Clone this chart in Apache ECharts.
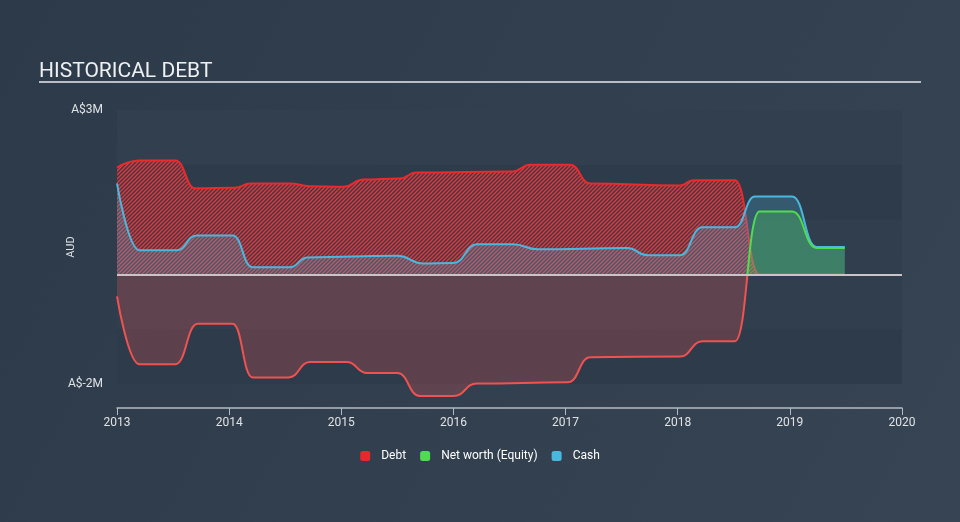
<!DOCTYPE html>
<html>
<head>
<meta charset="utf-8">
<script src="https://cdn.jsdelivr.net/npm/echarts@6/dist/echarts.min.js"></script>
<style>
html,body{margin:0;padding:0;background:#323f4e;}
#chart{width:960px;height:522px;}
</style>
</head>
<body>
<div id="chart"></div>
<script>
// ---- data (years as decimal, values in A$ millions) ----
const debtX = [2013.0, 2013.2, 2013.52, 2013.7, 2014.05, 2014.19, 2014.54, 2014.72, 2015.02, 2015.2, 2015.52, 2015.67, 2016.53, 2016.68, 2017.04, 2017.22, 2018.02, 2018.14, 2018.51, 2018.73, 2019.49];
const debtV = [1.95, 2.08, 2.08, 1.57, 1.58, 1.66, 1.66, 1.61, 1.60, 1.73, 1.75, 1.86, 1.88, 2.0, 2.0, 1.66, 1.62, 1.72, 1.72, 0, 0];

const cashX = [2013.0, 2013.2, 2013.53, 2013.71, 2014.03, 2014.21, 2014.54, 2014.7, 2015.5, 2015.73, 2016.0, 2016.21, 2016.53, 2016.75, 2017.55, 2017.73, 2018.02, 2018.22, 2018.51, 2018.69, 2019.02, 2019.24, 2019.49];
const cashV = [1.66, 0.44, 0.44, 0.71, 0.71, 0.13, 0.13, 0.31, 0.34, 0.2, 0.21, 0.55, 0.55, 0.46, 0.48, 0.35, 0.35, 0.86, 0.86, 1.42, 1.42, 0.5, 0.5];

const equityX = [2013.0, 2013.2, 2013.52, 2013.72, 2014.03, 2014.21, 2014.53, 2014.72, 2015.05, 2015.23, 2015.5, 2015.7, 2016.0, 2016.21, 2017.02, 2017.22, 2018.02, 2018.22, 2018.51, 2018.73, 2019.02, 2019.24, 2019.49];
const equityV = [-0.4, -1.64, -1.64, -0.9, -0.9, -1.88, -1.88, -1.6, -1.6, -1.8, -1.8, -2.22, -2.22, -1.99, -1.97, -1.51, -1.5, -1.22, -1.22, 1.15, 1.15, 0.48, 0.48];

const seriesNames = ['Debt', 'Net worth (Equity)', 'Cash'];
const xTicks = [2013, 2014, 2015, 2016, 2017, 2018, 2019, 2020];
const yMin = -2, yMax = 3;

function pairs(xs, vs) { return xs.map((x, i) => [x, vs[i]]); }

const GREEN = '#4fdc4f', RED_NEG = '#f05252';

// hatch pattern for debt area
const pc = document.createElement('canvas');
pc.width = 4; pc.height = 4;
const g = pc.getContext('2d');
g.fillStyle = 'rgba(110,45,60,0.45)';
g.fillRect(0, 0, 4, 4);
g.strokeStyle = 'rgba(235,62,62,0.9)';
g.lineWidth = 1.3;
g.beginPath();
g.moveTo(-1, 5); g.lineTo(5, -1);
g.moveTo(-1, 1); g.lineTo(1, -1);
g.moveTo(3, 5); g.lineTo(5, 3);
g.stroke();

const chart = echarts.init(document.getElementById('chart'), null, {renderer: 'canvas'});
const option = {
  backgroundColor: {
    type: 'linear', x: 0, y: 0, x2: 1, y2: 1,
    colorStops: [{offset: 0, color: '#2d3a49'}, {offset: 1, color: '#374453'}]
  },
  animation: false,
  title: {
    text: 'HISTORICAL DEBT', left: 34, top: 56,
    textStyle: {color: '#eef0f2', fontSize: 21, fontWeight: 'normal', fontFamily: 'Roboto'}
  },
  graphic: [{
    type: 'line', shape: {x1: 39, y1: 82, x2: 921, y2: 82},
    style: {stroke: '#b9bec5', lineWidth: 2}
  }],
  grid: {left: 117, right: 58, top: 110, bottom: 138},
  legend: {
    data: seriesNames, bottom: 55, left: 'center',
    itemWidth: 10, itemHeight: 10, itemGap: 14, icon: 'roundRect',
    textStyle: {color: '#ffffff', fontSize: 12, fontFamily: 'Roboto', padding: [0, 0, 0, 6]}
  },
  xAxis: {
    type: 'value', min: xTicks[0], max: xTicks[xTicks.length - 1], interval: 1,
    offset: 24,
    axisLine: {show: true, onZero: false, lineStyle: {color: '#b4bac2', width: 1.5}},
    axisTick: {show: true, length: 7, lineStyle: {color: '#b4bac2'}},
    axisLabel: {color: '#e0e3e6', fontSize: 12, margin: 9, fontFamily: 'Roboto', formatter: v => String(v)},
    splitLine: {show: false}
  },
  yAxis: {
    type: 'value', min: yMin, max: yMax, interval: 1,
    name: 'AUD', nameLocation: 'middle', nameRotate: 90, nameGap: 40, nameMoveOverlap: false,
    nameTextStyle: {color: '#e0e3e6', fontSize: 11, fontFamily: 'Roboto'},
    axisLine: {show: false}, axisTick: {show: false},
    axisLabel: {
      color: '#e0e3e6', fontSize: 12, margin: 14, fontFamily: 'Roboto',
      formatter: v => (v === yMax ? 'A$' + yMax + 'M' : (v === yMin ? 'A$' + yMin + 'M' : ''))
    },
    splitLine: {show: false},
    splitArea: {show: true, areaStyle: {color: ['#2e3b4a', '#313e4d', '#313e4d', '#2e3b4a', '#323f4e']}}
  },
  series: [
    {
      name: 'Debt', type: 'line', data: pairs(debtX, debtV),
      smooth: 0.5, smoothMonotone: 'x', showSymbol: false, clip: false, z: 2,
      color: '#e8282a',
      lineStyle: {color: '#ea2a2c', width: 2},
      areaStyle: {color: {image: pc, repeat: 'repeat'}, opacity: 1},
      markLine: {
        silent: true, symbol: 'none', label: {show: false},
        lineStyle: {color: '#c9c4c8', width: 2, type: 'solid'},
        data: [{yAxis: 0}]
      }
    },
    {
      name: 'Net worth (Equity)', type: 'line', data: pairs(equityX, equityV),
      smooth: 0.5, smoothMonotone: 'x', showSymbol: false, clip: false, z: 4,
      color: GREEN,
      lineStyle: {width: 2, color: GREEN},
      areaStyle: {color: 'rgba(79,220,79,0.27)', opacity: 1}
    },
    {
      name: 'Cash', type: 'line', data: pairs(cashX, cashV),
      smooth: 0.5, smoothMonotone: 'x', showSymbol: false, clip: false, z: 3,
      color: '#4ab8de',
      lineStyle: {color: '#4ab8de', width: 2},
      areaStyle: {color: 'rgba(74,184,222,0.25)', opacity: 1}
    }
  ]
};
chart.setOption(option);

// split equity colour at zero using the axis' own pixel position of 0
const y0 = chart.convertToPixel({yAxisIndex: 0}, 0);
function splitGrad(top, bottom) {
  return {
    type: 'linear', x: 0, y: y0 - 1, x2: 0, y2: y0 + 1, global: true,
    colorStops: [
      {offset: 0, color: top}, {offset: 0.5, color: top},
      {offset: 0.5, color: bottom}, {offset: 1, color: bottom}
    ]
  };
}
chart.setOption({
  series: [{}, {
    lineStyle: {color: splitGrad(GREEN, RED_NEG)},
    areaStyle: {color: splitGrad('rgba(79,220,79,0.27)', 'rgba(240,82,82,0.24)')}
  }, {}]
});
</script>
</body>
</html>
